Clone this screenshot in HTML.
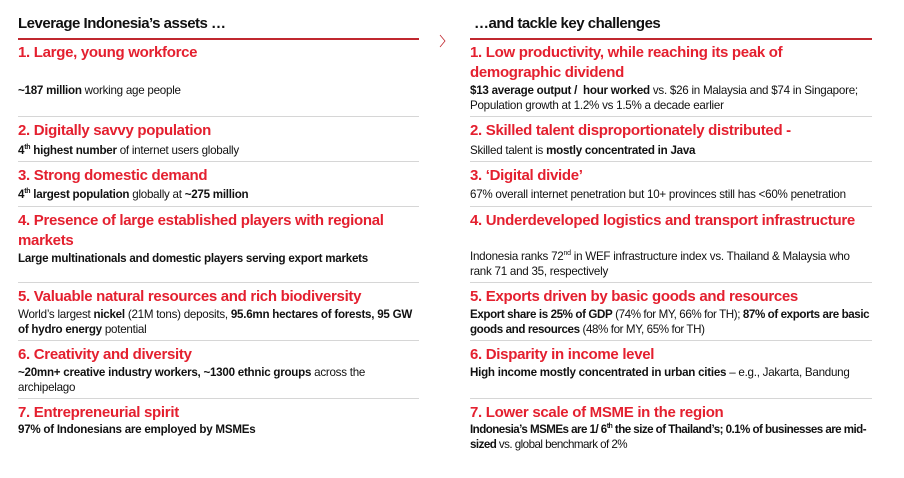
<!DOCTYPE html>
<html><head><meta charset="utf-8"><style>
body{margin:0;width:904px;height:478px;background:#fff;font-family:"Liberation Sans",Arial,sans-serif;position:relative;overflow:hidden;color:#111}
.a{position:absolute;white-space:nowrap}
.h{font-size:15px;font-weight:bold;color:#111;letter-spacing:-0.5px}
.t{font-size:15px;font-weight:bold;color:#e4202f;letter-spacing:-0.3px;line-height:20px}
.b{font-size:11.6px;line-height:15px;letter-spacing:-0.25px}
.b b{font-weight:bold}
.red{position:absolute;height:2px;background:#c0282f}
.sep{position:absolute;height:1px;background:#d6d6d6}
sup{font-size:7px;line-height:0}
</style></head><body>
<div class="a h" style="left:18px;top:15px">Leverage Indonesia’s assets …</div>
<div class="a h" style="left:474px;top:15px">…and tackle key challenges</div>
<div class="red" style="left:18px;top:38px;width:401px"></div>
<div class="red" style="left:470px;top:38px;width:402px"></div>
<svg class="a" style="left:438px;top:34px" width="8" height="14"><polyline points="2,1 7,7 2,13" fill="none" stroke="#c0282f" stroke-width="0.8"/></svg>

<div class="a t" style="left:18px;top:43px">1. Large, young workforce</div>
<div class="a b" style="left:18px;top:83px"><b>~187 million</b> working age people</div>
<div class="sep" style="left:18px;top:116px;width:401px"></div>
<div class="a t" style="left:18px;top:121px">2. Digitally savvy population</div>
<div class="a b" style="left:18px;top:143px"><b>4<sup>th</sup> highest number</b> of internet users globally</div>
<div class="sep" style="left:18px;top:161px;width:401px"></div>
<div class="a t" style="left:18px;top:166px">3. Strong domestic demand</div>
<div class="a b" style="left:18px;top:187px"><b>4<sup>th</sup> largest population</b> globally at <b>~275 million</b></div>
<div class="sep" style="left:18px;top:206px;width:401px"></div>
<div class="a t" style="left:18px;top:211px">4. Presence of large established players with regional<br>markets</div>
<div class="a b" style="left:18px;top:251px"><b>Large multinationals and domestic players serving export markets</b></div>
<div class="sep" style="left:18px;top:282px;width:401px"></div>
<div class="a t" style="left:18px;top:287px">5. Valuable natural resources and rich biodiversity</div>
<div class="a b" style="left:18px;top:307px">World’s largest <b>nickel</b> (21M tons) deposits, <b>95.6mn hectares of forests, 95 GW</b><br><b>of hydro energy</b> potential</div>
<div class="sep" style="left:18px;top:340px;width:401px"></div>
<div class="a t" style="left:18px;top:345px">6. Creativity and diversity</div>
<div class="a b" style="left:18px;top:365px"><b>~20mn+ creative industry workers, ~1300 ethnic groups</b> across the<br>archipelago</div>
<div class="sep" style="left:18px;top:398px;width:401px"></div>
<div class="a t" style="left:18px;top:403px">7. Entrepreneurial spirit</div>
<div class="a b" style="left:18px;top:422px"><b>97% of Indonesians are employed by MSMEs</b></div>

<div class="a t" style="left:470px;top:43px">1. Low productivity, while reaching its peak of<br>demographic dividend</div>
<div class="a b" style="left:470px;top:83px"><b>$13 average output /&nbsp; hour worked</b> vs. $26 in Malaysia and $74 in Singapore;<br>Population growth at 1.2% vs 1.5% a decade earlier</div>
<div class="sep" style="left:470px;top:116px;width:402px"></div>
<div class="a t" style="left:470px;top:121px">2. Skilled talent disproportionately distributed -</div>
<div class="a b" style="left:470px;top:143px">Skilled talent is <b>mostly concentrated in Java</b></div>
<div class="sep" style="left:470px;top:161px;width:402px"></div>
<div class="a t" style="left:470px;top:166px">3. ‘Digital divide’</div>
<div class="a b" style="left:470px;top:187px">67% overall internet penetration but 10+ provinces still has &lt;60% penetration</div>
<div class="sep" style="left:470px;top:206px;width:402px"></div>
<div class="a t" style="left:470px;top:211px">4. Underdeveloped logistics and transport infrastructure</div>
<div class="a b" style="left:470px;top:249px">Indonesia ranks 72<sup>nd</sup> in WEF infrastructure index vs. Thailand &amp; Malaysia who<br>rank 71 and 35, respectively</div>
<div class="sep" style="left:470px;top:282px;width:402px"></div>
<div class="a t" style="left:470px;top:287px">5. Exports driven by basic goods and resources</div>
<div class="a b" style="left:470px;top:307px;letter-spacing:-0.4px"><b>Export share is 25% of GDP</b> (74% for MY, 66% for TH); <b>87% of exports are basic</b><br><b>goods and resources</b> (48% for MY, 65% for TH)</div>
<div class="sep" style="left:470px;top:340px;width:402px"></div>
<div class="a t" style="left:470px;top:345px">6. Disparity in income level</div>
<div class="a b" style="left:470px;top:365px"><b>High income mostly concentrated in urban cities</b> – e.g., Jakarta, Bandung</div>
<div class="sep" style="left:470px;top:398px;width:402px"></div>
<div class="a t" style="left:470px;top:403px">7. Lower scale of MSME in the region</div>
<div class="a b" style="left:470px;top:422px;letter-spacing:-0.55px"><b>Indonesia’s MSMEs are 1/ 6<sup>th</sup> the size of Thailand’s; 0.1% of businesses are mid-</b><br><b>sized</b> vs. global benchmark of 2%</div>
</body></html>
